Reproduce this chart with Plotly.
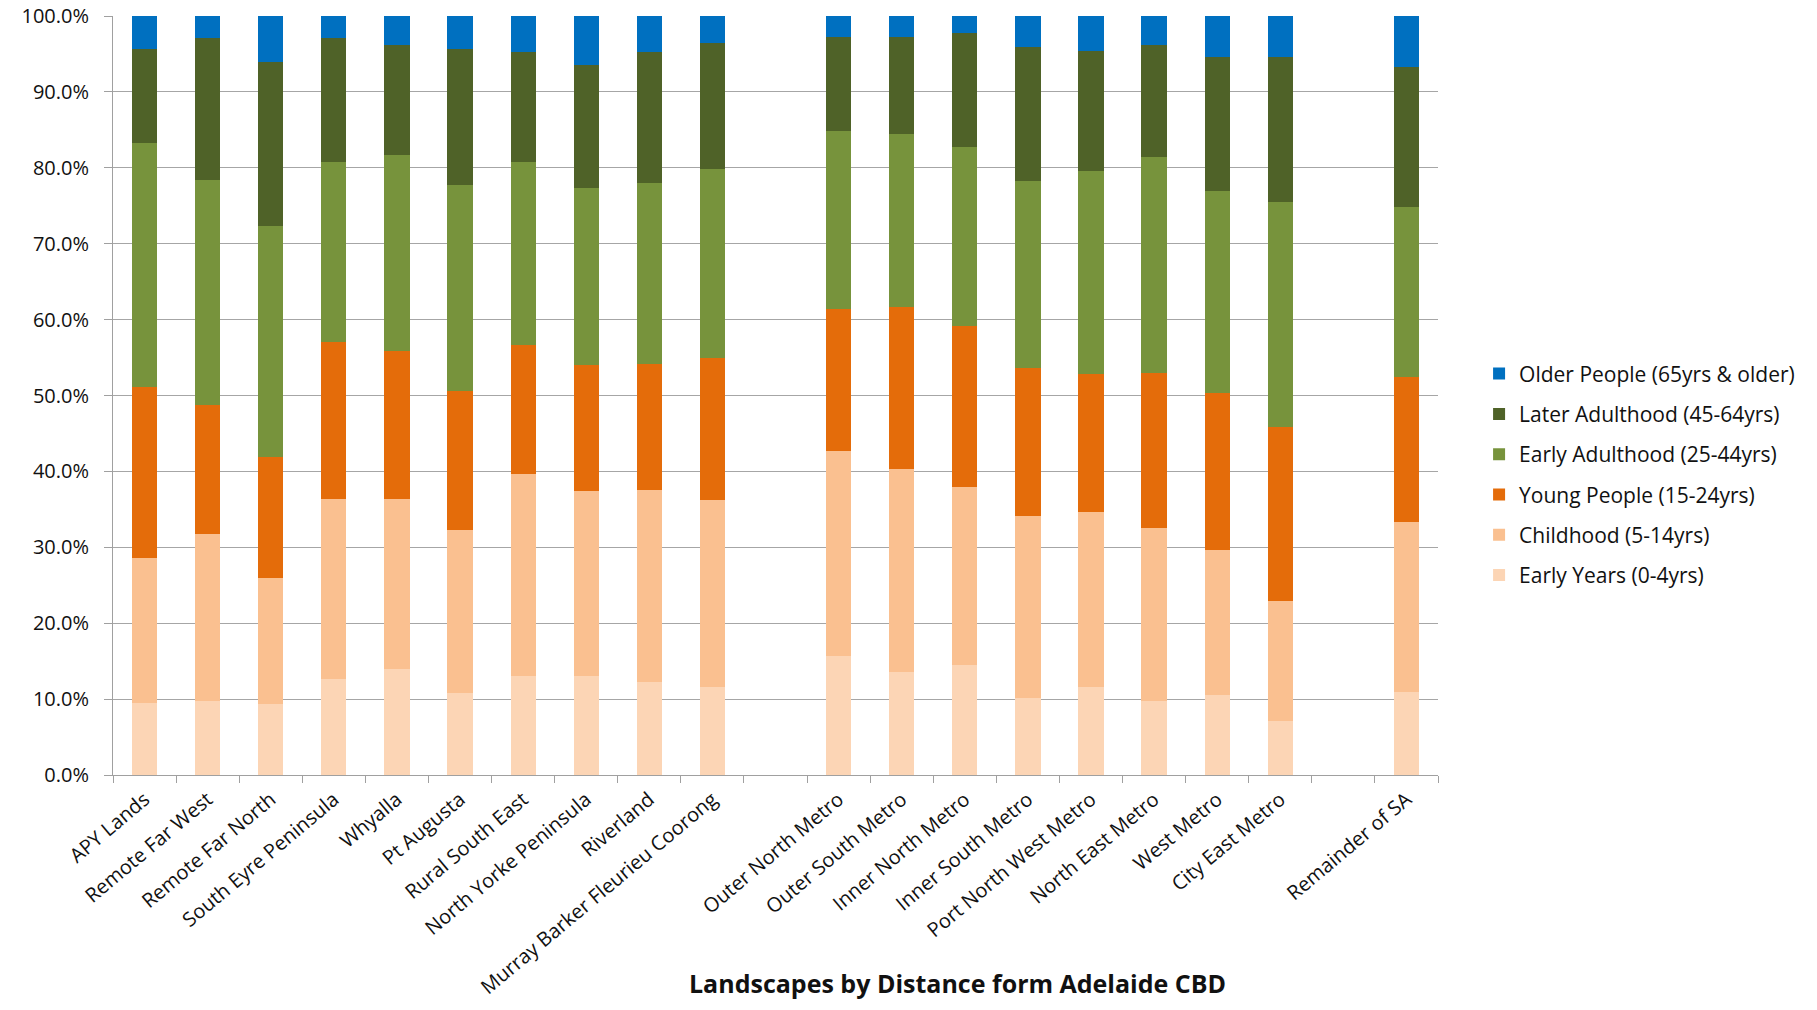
import plotly.graph_objects as go

categories = [
    "APY Lands", "Remote Far West", "Remote Far North", "South Eyre Peninsula",
    "Whyalla", "Pt Augusta", "Rural South East", "North Yorke Peninsula",
    "Riverland", "Murray Barker Fleurieu Coorong", " ",
    "Outer North Metro", "Outer South Metro", "Inner North Metro",
    "Inner South Metro", "Port North West Metro", "North East Metro",
    "West Metro", "City East Metro", "  ", "Remainder of SA",
]

early_years = [9.5, 9.7, 9.4, 12.7, 14.0, 10.8, 13.0, 13.1, 12.2, 11.6, None,
               15.7, 13.6, 14.5, 10.1, 11.6, 9.7, 10.6, 7.1, None, 10.9]
childhood = [19.1, 22.0, 16.6, 23.7, 22.4, 21.5, 26.6, 24.3, 25.4, 24.6, None,
             27.0, 26.7, 23.4, 24.0, 23.0, 22.9, 19.0, 15.8, None, 22.4]
young_people = [22.5, 17.0, 15.9, 20.7, 19.4, 18.3, 17.0, 16.6, 16.6, 18.7, None,
                18.7, 21.3, 21.2, 19.5, 18.2, 20.3, 20.7, 22.9, None, 19.1]
early_adult = [32.2, 29.7, 30.4, 23.6, 25.9, 27.2, 24.1, 23.4, 23.8, 24.9, None,
               23.5, 22.9, 23.7, 24.6, 26.8, 28.5, 26.6, 29.7, None, 22.5]
later_adult = [12.3, 18.7, 21.7, 16.4, 14.5, 17.8, 14.6, 16.1, 17.3, 16.6, None,
               12.3, 12.7, 14.9, 17.7, 15.8, 14.8, 17.7, 19.1, None, 18.4]
older_people = [4.4, 2.9, 6.0, 2.9, 3.8, 4.4, 4.7, 6.5, 4.7, 3.6, None,
                2.8, 2.8, 2.3, 4.1, 4.6, 3.8, 5.4, 5.4, None, 6.7]

series_names = [
    "Early Years (0-4yrs)", "Childhood (5-14yrs)", "Young People (15-24yrs)",
    "Early Adulthood (25-44yrs)", "Later Adulthood (45-64yrs)",
    "Older People (65yrs & older)",
]
series_values = [early_years, childhood, young_people, early_adult, later_adult, older_people]
series_colors = ["#FCD5B5", "#FAC090", "#E46C0A", "#77933C", "#4F6228", "#0070C0"]

FONT = "Open Sans, Lato, sans-serif"
TXT = "#111111"

fig = go.Figure()
n = len(series_names)
for i, (name, vals, col) in enumerate(zip(series_names, series_values, series_colors)):
    fig.add_trace(go.Bar(
        x=categories, y=vals, name=name, legendgroup=name,
        legendrank=n - i,
        marker=dict(color=col, line=dict(width=0)),
        hovertemplate="%{x}<br>" + name + ": %{y:.1f}%<extra></extra>",
    ))

fig.update_layout(
    width=1817, height=1010,
    margin=dict(l=113, r=379, t=16, b=235),
    barmode="stack", bargap=0.6,
    plot_bgcolor="white", paper_bgcolor="white",
    font=dict(family=FONT, size=20, color=TXT),
    showlegend=True,
    legend=dict(
        x=1.031, xanchor="left", y=0.396, yanchor="middle",
        traceorder="grouped", tracegroupgap=10,
        font=dict(family=FONT, size=21, color=TXT),
        bgcolor="rgba(0,0,0,0)",
    ),
    annotations=[dict(
        text="<b>Landscapes by Distance form Adelaide CBD</b>",
        x=0.637, y=-0.274, xref="paper", yref="paper",
        xanchor="center", yanchor="middle", showarrow=False,
        font=dict(family=FONT, size=25, color=TXT),
    )],
)

fig.update_xaxes(
    type="category", categoryorder="array", categoryarray=categories,
    tickangle=-40, tickfont=dict(family=FONT, size=20, color=TXT),
    showline=True, linecolor="#A0A0A0", linewidth=1,
    ticks="outside", tickson="boundaries", ticklen=7, tickcolor="#A0A0A0",
    showgrid=False, ticklabelstandoff=4, fixedrange=True, automargin=False,
)
fig.update_yaxes(
    range=[0, 100], dtick=10, tickformat=".1f", ticksuffix="%",
    tickfont=dict(family=FONT, size=20, color=TXT),
    showline=True, linecolor="#A0A0A0", linewidth=1,
    ticks="outside", ticklen=8, tickcolor="#A0A0A0",
    showgrid=True, gridcolor="#A6A6A6", gridwidth=1,
    zeroline=False, ticklabelstandoff=11, fixedrange=True, automargin=False,
)

fig.write_html("out.html")
